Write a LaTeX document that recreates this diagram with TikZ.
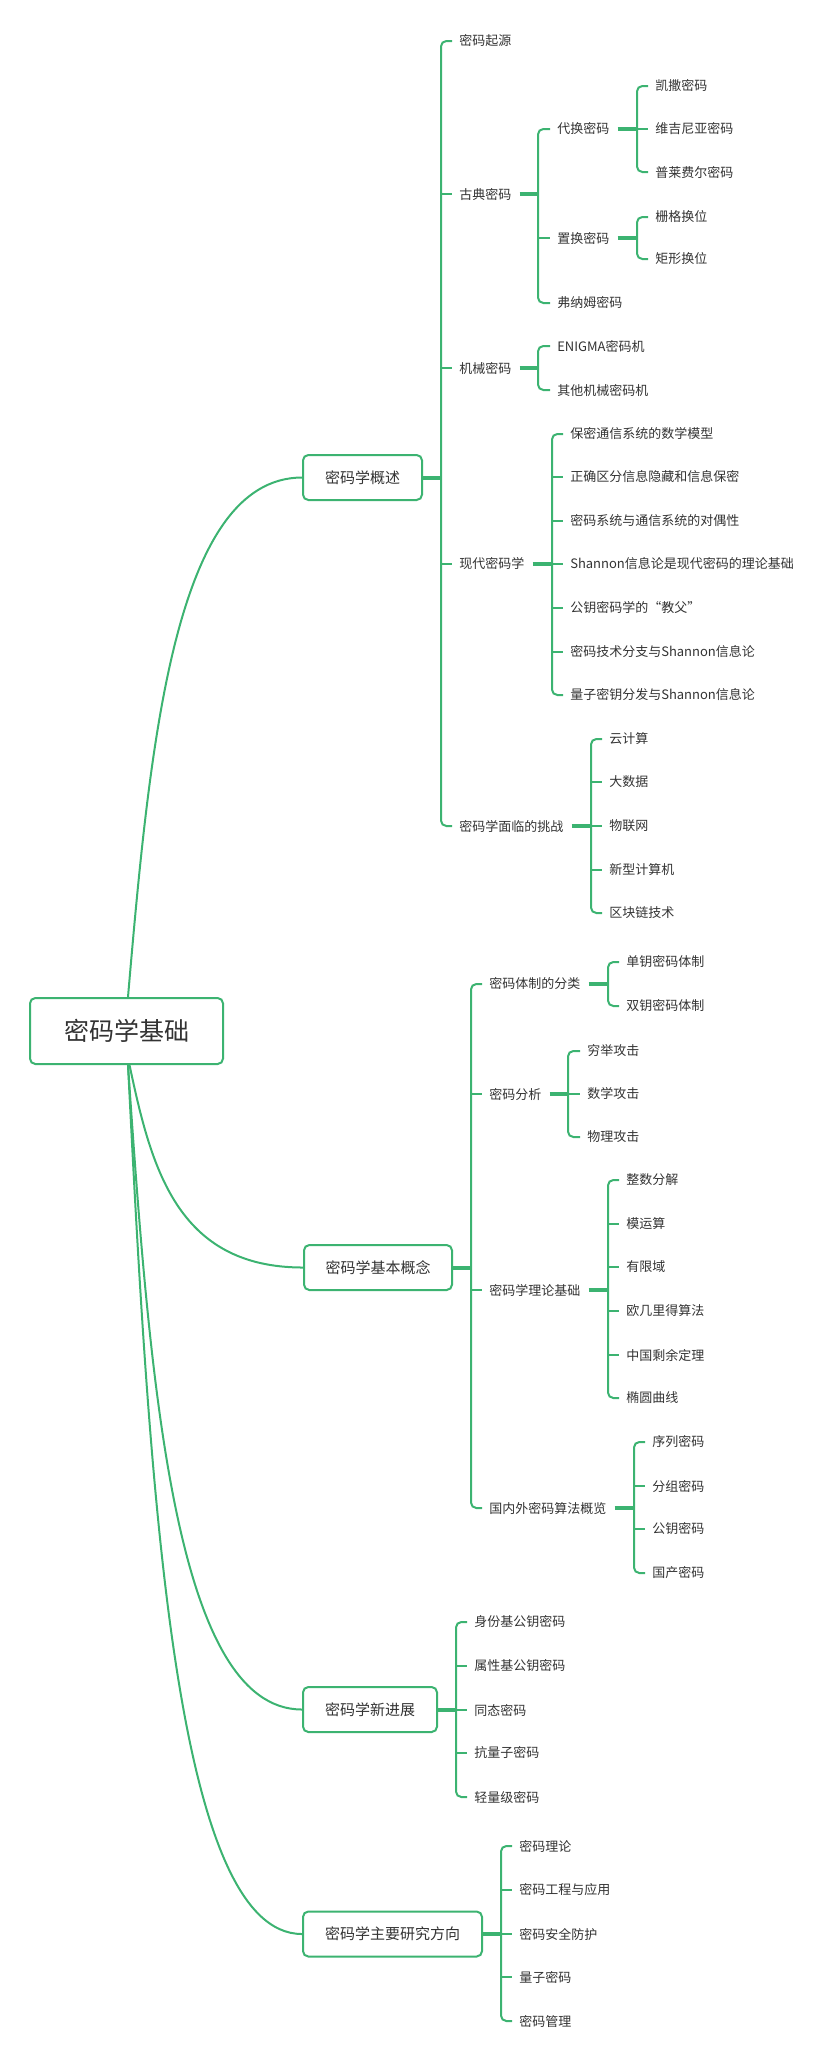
\documentclass[tikz,border=0pt]{standalone}
\usepackage{fontspec}
\setmainfont{Noto Sans CJK SC}
\usetikzlibrary{calc}
\pgfdeclarelayer{background}
\pgfsetlayers{background,main}
\definecolor{mmgreen}{RGB}{60,179,113}
\definecolor{mmtext}{RGB}{51,51,51}
\newcommand\mmTrunk[3]{\draw[thinln,rounded corners=4pt] ($(#2.west)+(-7,0)$) -- (#1 |- #2.west) -- (#1 |- #3.west) -- ($(#3.west)+(-7,0)$);}
\newcommand\mmTicks[2]{\foreach \n in {#2}{\draw[thinln] (#1 |- \n.west) -- ($(\n.west)+(-7,0)$);}}
\newcommand\mmStemT[2]{\draw[thickln] ($(#1.east)+(8,0)$) -- (#2 |- #1.east);}
\newcommand\mmStemB[2]{\draw[thickln] (#1.east) -- (#2 |- #1.east);}
\tikzset{
  leaf/.style={anchor=west,inner sep=0pt,text=mmtext,font=\fontsize{9.75pt}{11pt}\selectfont},
  topic/.style={draw=mmgreen,line width=1.5pt,rounded corners=4pt,fill=white,text=mmtext,inner sep=0pt,minimum height=33.75pt,font=\fontsize{11.25pt}{13pt}\selectfont},
  rootbox/.style={draw=mmgreen,line width=1.5pt,rounded corners=4pt,fill=white,text=mmtext,inner sep=0pt,minimum width=144.75pt,minimum height=49.5pt,font=\fontsize{18.75pt}{21pt}\selectfont},
  thinln/.style={draw=mmgreen,line width=1.5pt},
  thickln/.style={draw=mmgreen,line width=3pt},
  curveln/.style={draw=mmgreen,line width=1.5pt}
}
\begin{document}
\begin{tikzpicture}[x=0.75pt,y=-0.75pt]
\useasboundingbox (0,0) rectangle (832,2063);
\node[rootbox] (root) at (126.5,1031) {密码学基础};
\node[topic,minimum width=89.25pt] (A) at (362.5,477.5) {密码学概述};
\node[topic,minimum width=111pt] (B) at (378,1267.5) {密码学基本概念};
\node[topic,minimum width=100.5pt] (C) at (370,1709.5) {密码学新进展};
\node[topic,minimum width=134.25pt] (D) at (392.5,1934) {密码学主要研究方向};
\begin{pgfonlayer}{background}
\draw[curveln] ($(root.north)+(1.5,0)$) .. controls (150,740) and (175,478) .. (A.west);
\draw[curveln] ($(root.south)+(3,0)$) .. controls (151,1166) and (176,1267.5) .. (B.west);
\draw[curveln] ($(root.south)+(1.5,0)$) .. controls (150,1387) and (175,1709.5) .. (C.west);
\draw[curveln] ($(root.south)+(1.5,0)$) .. controls (150,1499) and (175,1934) .. (D.west);
\end{pgfonlayer}
% verticals
\coordinate (vA) at (441,0);
\coordinate (vA2) at (538,0);
\coordinate (vA21) at (637,0);
\coordinate (vA22) at (637,0);
\coordinate (vA3) at (538,0);
\coordinate (vA4) at (552,0);
\coordinate (vA5) at (591,0);
\coordinate (vB) at (471,0);
\coordinate (vB1) at (608,0);
\coordinate (vB2) at (568,0);
\coordinate (vB3) at (608,0);
\coordinate (vB4) at (634,0);
\coordinate (vC) at (456,0);
\coordinate (vD) at (501,0);
% A children
\node[leaf] (a1) at (459,41) {密码起源};
\node[leaf] (a2) at (459,194) {古典密码};
\node[leaf] (a3) at (459,368) {机械密码};
\node[leaf] (a4) at (459,564) {现代密码学};
\node[leaf] (a5) at (459,826) {密码学面临的挑战};
\node[leaf] (a21) at (557,129) {代换密码};
\node[leaf] (a22) at (557,238) {置换密码};
\node[leaf] (a23) at (557,303) {弗纳姆密码};
\node[leaf] (a211) at (655,86) {凯撒密码};
\node[leaf] (a212) at (655,129) {维吉尼亚密码};
\node[leaf] (a213) at (655,172) {普莱费尔密码};
\node[leaf] (a221) at (655,217) {栅格换位};
\node[leaf] (a222) at (655,259) {矩形换位};
\node[leaf] (a31) at (557,346) {ENIGMA密码机};
\node[leaf] (a32) at (557,390) {其他机械密码机};
\node[leaf] (a41) at (570,434) {保密通信系统的数学模型};
\node[leaf] (a42) at (570,477) {正确区分信息隐藏和信息保密};
\node[leaf] (a43) at (570,521) {密码系统与通信系统的对偶性};
\node[leaf] (a44) at (570,564) {Shannon信息论是现代密码的理论基础};
\node[leaf] (a45) at (570,608) {公钥密码学的“教父”};
\node[leaf] (a46) at (570,652) {密码技术分支与Shannon信息论};
\node[leaf] (a47) at (570,695) {量子密钥分发与Shannon信息论};
\node[leaf] (a51) at (609,739) {云计算};
\node[leaf] (a52) at (609,782) {大数据};
\node[leaf] (a53) at (609,826) {物联网};
\node[leaf] (a54) at (609,870) {新型计算机};
\node[leaf] (a55) at (609,913) {区块链技术};
% B children
\node[leaf] (b1) at (489,984) {密码体制的分类};
\node[leaf] (b2) at (489,1094) {密码分析};
\node[leaf] (b3) at (489,1290) {密码学理论基础};
\node[leaf] (b4) at (489,1508) {国内外密码算法概览};
\node[leaf] (b11) at (626,962) {单钥密码体制};
\node[leaf] (b12) at (626,1006) {双钥密码体制};
\node[leaf] (b21) at (587,1051) {穷举攻击};
\node[leaf] (b22) at (587,1094) {数学攻击};
\node[leaf] (b23) at (587,1137) {物理攻击};
\node[leaf] (b31) at (626,1180) {整数分解};
\node[leaf] (b32) at (626,1224) {模运算};
\node[leaf] (b33) at (626,1267) {有限域};
\node[leaf] (b34) at (626,1311) {欧几里得算法};
\node[leaf] (b35) at (626,1355) {中国剩余定理};
\node[leaf] (b36) at (626,1398) {椭圆曲线};
\node[leaf] (b41) at (652,1442) {序列密码};
\node[leaf] (b42) at (652,1486) {分组密码};
\node[leaf] (b43) at (652,1529) {公钥密码};
\node[leaf] (b44) at (652,1573) {国产密码};
% C children
\node[leaf] (c1) at (474,1622) {身份基公钥密码};
\node[leaf] (c2) at (474,1666) {属性基公钥密码};
\node[leaf] (c3) at (474,1710) {同态密码};
\node[leaf] (c4) at (474,1753) {抗量子密码};
\node[leaf] (c5) at (474,1797) {轻量级密码};
% D children
\node[leaf] (d1) at (519,1846) {密码理论};
\node[leaf] (d2) at (519,1890) {密码工程与应用};
\node[leaf] (d3) at (519,1934) {密码安全防护};
\node[leaf] (d4) at (519,1977) {量子密码};
\node[leaf] (d5) at (519,2021) {密码管理};
% connectors
\mmStemB{A}{vA} \mmTrunk{vA}{a1}{a5} \mmTicks{vA}{a2,a3,a4}
\mmStemT{a2}{vA2} \mmTrunk{vA2}{a21}{a23} \mmTicks{vA2}{a22}
\mmStemT{a21}{vA21} \mmTrunk{vA21}{a211}{a213} \mmTicks{vA21}{a212}
\mmStemT{a22}{vA22} \mmTrunk{vA22}{a221}{a222}
\mmStemT{a3}{vA3} \mmTrunk{vA3}{a31}{a32}
\mmStemT{a4}{vA4} \mmTrunk{vA4}{a41}{a47} \mmTicks{vA4}{a42,a43,a44,a45,a46}
\mmStemT{a5}{vA5} \mmTrunk{vA5}{a51}{a55} \mmTicks{vA5}{a52,a53,a54}
\mmStemB{B}{vB} \mmTrunk{vB}{b1}{b4} \mmTicks{vB}{b2,b3}
\mmStemT{b1}{vB1} \mmTrunk{vB1}{b11}{b12}
\mmStemT{b2}{vB2} \mmTrunk{vB2}{b21}{b23} \mmTicks{vB2}{b22}
\mmStemT{b3}{vB3} \mmTrunk{vB3}{b31}{b36} \mmTicks{vB3}{b32,b33,b34,b35}
\mmStemT{b4}{vB4} \mmTrunk{vB4}{b41}{b44} \mmTicks{vB4}{b42,b43}
\mmStemB{C}{vC} \mmTrunk{vC}{c1}{c5} \mmTicks{vC}{c2,c3,c4}
\mmStemB{D}{vD} \mmTrunk{vD}{d1}{d5} \mmTicks{vD}{d2,d3,d4}
\end{tikzpicture}
\end{document}
